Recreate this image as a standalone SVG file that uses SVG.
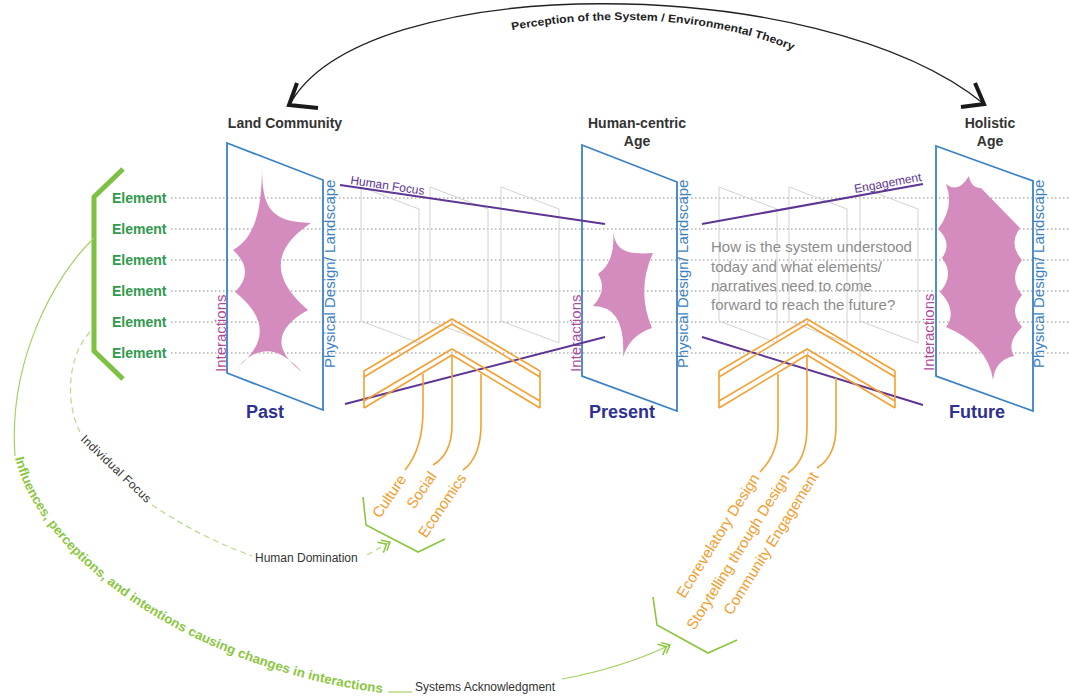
<svg xmlns="http://www.w3.org/2000/svg" width="1069" height="696" viewBox="0 0 1069 696">
<style>
text{font-family:"Liberation Sans",Arial,sans-serif}
.hdr{font-size:14px;font-weight:bold;fill:#333;text-anchor:middle}
.era{font-size:18px;font-weight:bold;fill:#2e3192;text-anchor:middle}
.el{font-size:14px;font-weight:bold;fill:#2f9a4c}
.row{stroke:#8a8a8a;stroke-width:1.1;stroke-dasharray:1.5 2.5;fill:none}
.panel{fill:none;stroke:#3b82c4;stroke-width:1.8}
.ghost{fill:none;stroke:#d2d2d2;stroke-width:1}
.blob{fill:#d48cbe}
.int{font-size:15px;fill:#b04a9c}
.phys{font-size:15px;fill:#3b82c4}
.focus{stroke:#5e3595;stroke-width:2;fill:none}
.flab{font-size:12px;fill:#5e3595}
.chev{fill:none;stroke:#f5a033;stroke-width:1.6}
.olab{font-size:15px;fill:#f39c2a;text-anchor:end}
.gthin{fill:none;stroke:#a3d163;stroke-width:1.2}
.gdash{fill:none;stroke:#b8da8c;stroke-width:1.2;stroke-dasharray:6 4}
.gbr{fill:none;stroke:#8cc63f;stroke-width:1.6}
.note{font-size:12px;fill:#333}
.q{font-size:15px;fill:#8c8c8c}
</style>
<defs>
<marker id="dbl" markerWidth="16" markerHeight="14" refX="12" refY="7" orient="auto" markerUnits="userSpaceOnUse">
<path d="M5,1 L12,7 L5,13 M1,1 L8,7 L1,13" fill="none" stroke="#8cc63f" stroke-width="1.5" stroke-dasharray="none"/>
</marker>
<path id="arcText" d="M420,60 C520,10 720,0 830,70" fill="none"/>
<path id="inflPath" d="M15,458 C42,565 200,672 390,694" fill="none"/>
</defs>

<!-- element rows -->
<g id="rows">
<path class="row" d="M171,198H1069M171,229H1069M171,260H1069M171,291H1069M171,322H1069M171,353H1069"/>
</g>

<!-- intermediate ghost frames -->
<g id="ghost-frames">
<polygon class="ghost" points="361,187 419,209 419,343 361,321"/>
<polygon class="ghost" points="430,187 488,209 488,343 430,321"/>
<polygon class="ghost" points="501,187 559,209 559,343 501,321"/>
<polygon class="ghost" points="719,187 777,209 777,343 719,321"/>
<polygon class="ghost" points="789,187 847,209 847,343 789,321"/>
<polygon class="ghost" points="860,187 918,209 918,343 860,321"/>
</g>

<!-- top arc -->
<g id="perception-arc">
<path d="M289,106 C360,-30 820,-30 984,104" fill="none" stroke="#222" stroke-width="1.3"/>
<polyline points="297,83 289,105 318,108" fill="none" stroke="#1a1a1a" stroke-width="4"/>
<polyline points="975,83 984,104 961,107" fill="none" stroke="#1a1a1a" stroke-width="4"/>
<text font-size="11" font-weight="bold" fill="#222"><textPath href="#arcText" startOffset="97" textLength="285" lengthAdjust="spacingAndGlyphs">Perception of the System / Environmental Theory</textPath></text>
</g>

<!-- element list -->
<g id="elements">
<polyline points="123,169 94,197 94,351 123,379" fill="none" stroke="#7dc142" stroke-width="5"/>
<text class="el" x="112" y="203">Element</text>
<text class="el" x="112" y="234">Element</text>
<text class="el" x="112" y="265">Element</text>
<text class="el" x="112" y="296">Element</text>
<text class="el" x="112" y="327">Element</text>
<text class="el" x="112" y="358">Element</text>
</g>

<!-- past -->
<g id="past">
<text class="hdr" x="285" y="128">Land Community</text>
<polygon class="panel" points="227,143 323,180 323,410 227,373"/>
<path class="blob" d="M262,165 C262,205 268,222 311,223 Q252,262 308,310 Q258,338 302,372 Q268,333 238,367 Q283,330 235,292 Q256,271 233,250 C255,238 262,210 262,165 Z"/>
<text class="int" transform="translate(226,372) rotate(-90)">Interactions</text>
<text class="phys" transform="translate(335,368) rotate(-90)">Physical Design/ Landscape</text>
<text class="era" x="265" y="418">Past</text>
</g>

<!-- present -->
<g id="present">
<text class="hdr" x="637" y="128">Human-centric</text>
<text class="hdr" x="637" y="146">Age</text>
<polygon class="panel" points="582,145 677,182 677,411 582,376"/>
<path class="blob" d="M613,230 C615,250 625,255 653,253 Q636,290 652,328 Q630,335 623,357 Q626,306 593,306 Q608,290 598,274 Q616,262 613,230 Z"/>
<text class="int" transform="translate(581,372) rotate(-90)">Interactions</text>
<text class="phys" transform="translate(688,368) rotate(-90)">Physical Design/ Landscape</text>
<text class="era" x="622" y="418">Present</text>
</g>

<!-- future -->
<g id="future">
<text class="hdr" x="990" y="128">Holistic</text>
<text class="hdr" x="990" y="146">Age</text>
<polygon class="panel" points="936,146 1033,181 1033,411 936,376"/>
<path class="blob" d="M969,176 Q971,188 981,188 L1020,228 Q1008,244 1022,260 Q1008,278 1022,295 Q1008,311 1022,327 Q1006,343 1014,356 Q995,360 993,380 Q988,345 946,327 Q958,311 940,292 Q955,275 942,258 Q953,243 938,229 Q955,207 946,184 Q958,194 969,176 Z"/>
<text class="int" transform="translate(934,371) rotate(-90)">Interactions</text>
<text class="phys" transform="translate(1044,368) rotate(-90)">Physical Design/ Landscape</text>
<text class="era" x="977" y="418">Future</text>
</g>

<!-- question -->
<g id="question">
<text class="q" x="711" y="252">How is the system understood</text>
<text class="q" x="711" y="272">today and what elements/</text>
<text class="q" x="711" y="291">narratives need to come</text>
<text class="q" x="711" y="310">forward to reach the future?</text>
</g>

<!-- focus lines -->
<g id="focus-lines">
<path class="focus" d="M340,185 L605,224 M345,404 L605,337 M702,224 L923,184 M702,337 L923,405"/>
<text class="flab" transform="translate(350,184) rotate(8.4)">Human Focus</text>
<text class="flab" transform="translate(855,193) rotate(-10.3)">Engagement</text>
</g>

<!-- past to present drivers -->
<g id="drivers-present">
<path class="chev" d="M364,371 L452,319 L540,371 M364,377 L452,324 L540,377 M364,401 L452,349 L540,401 M364,408 L452,355 L540,408 M364,371 V408 M540,371 V408"/>
<path class="chev" d="M423,374 V410 C423,440 415,458 405,470 M452,356 V425 C452,445 445,458 433,465 M481,374 V425 C481,445 475,462 463,470"/>
<text class="olab" transform="translate(407,479) rotate(-56)">Culture</text>
<text class="olab" transform="translate(437,476) rotate(-56)">Social</text>
<text class="olab" transform="translate(467,478) rotate(-56)">Economics</text>
<polyline class="gbr" points="363,497 366,525 418,552 445,539"/>
</g>

<!-- present to future drivers -->
<g id="drivers-future">
<path class="chev" d="M719,371 L807,319 L895,371 M719,377 L807,324 L895,377 M719,401 L807,349 L895,401 M719,408 L807,355 L895,408 M719,371 V408 M895,371 V408"/>
<path class="chev" d="M778,374 V427 C778,445 772,460 760,472 M807,356 V427 C807,450 800,465 788,473 M836,378 V427 C836,445 830,460 817,468"/>
<text class="olab" transform="translate(760,478) rotate(-58)">Ecorevelatory Design</text>
<text class="olab" transform="translate(790,478) rotate(-58)">Storytelling through Design</text>
<text class="olab" transform="translate(819,476) rotate(-58)">Community Engagement</text>
<polyline class="gbr" points="653,597 657,625 708,653 737,640"/>
</g>

<!-- feedback paths -->
<g id="connectors">
<path class="gthin" d="M94,238 C55,275 8,360 15,456"/>
<text font-size="13" font-weight="bold" fill="#8cc63f"><textPath href="#inflPath" textLength="458" lengthAdjust="spacingAndGlyphs">Influences, perceptions, and intentions causing changes in interactions</textPath></text>
<path class="gthin" d="M388,692 L412,692"/>
<text class="note" x="415" y="691">Systems Acknowledgment</text>
<path class="gthin" d="M562,679 Q622,668 670,645" marker-end="url(#dbl)"/>
<path class="gdash" d="M90,332 C66,358 66,405 80,432"/>
<text class="note" transform="translate(80,440) rotate(43.6)" textLength="92">Individual Focus</text>
<path class="gdash" d="M152,505 Q200,537 252,556"/>
<text class="note" x="255" y="562">Human Domination</text>
<path class="gdash" d="M367,555 L390,542" marker-end="url(#dbl)"/>
</g>
</svg>
